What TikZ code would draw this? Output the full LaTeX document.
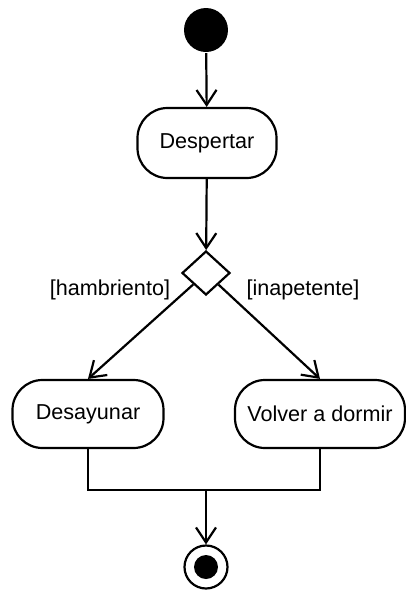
\documentclass[tikz,border=0pt]{standalone}
\usepackage{fontspec}
\setmainfont{Liberation Sans}
\usetikzlibrary{positioning, calc, shapes.geometric, arrows.meta}

\tikzset{
  activity/.style={draw, rounded corners=15pt, minimum height=34pt, inner sep=2pt},
  flow/.style={-{Straight Barb[length=7.5pt,width=10pt,line width=1.1pt]}},
}

\begin{document}
\begin{tikzpicture}[x=0.5pt, y=-0.5pt, line width=1.1pt, font=\fontsize{10.8}{13}\selectfont]
                \useasboundingbox (0,0) rectangle (406,591);
                \node[circle, fill=black, minimum size=22pt, inner sep=0pt] (start) at (206,30) {};
                \node[activity, minimum width=69.5pt, minimum height=35pt] (desp) at (207,143) {Despertar};
                \node[diamond, draw, inner sep=0pt, minimum width=24pt, minimum height=22pt] (dec) at (206,273) {};
                \node (hamb) at (110,290) {[hambriento]};
                \node (inap) at (303,290) {[inapetente]};

                \node[activity, minimum width=75.5pt] (des) at (88,414) {Desayunar};
                \node[activity, minimum width=85pt] (vol) at (320,414) {Volver a dormir};

                \coordinate (join) at (206,490);
                \node[circle, draw, minimum size=21.5pt, inner sep=0pt] (fin) at (206,567) {};
                \node[circle, fill=black, minimum size=12pt, inner sep=0pt] (finin) at (fin) {};

                \draw[flow] (start) -- (desp);
                \draw[flow] (desp) -- (dec);
                \draw[flow] (dec) -- (des.north);
                \draw[flow] (dec) -- (vol.north);
                \draw (des.south) |- (join) -| (vol.south);
                \draw[flow] (join) -- (fin);
            \end{tikzpicture}
\end{document}
